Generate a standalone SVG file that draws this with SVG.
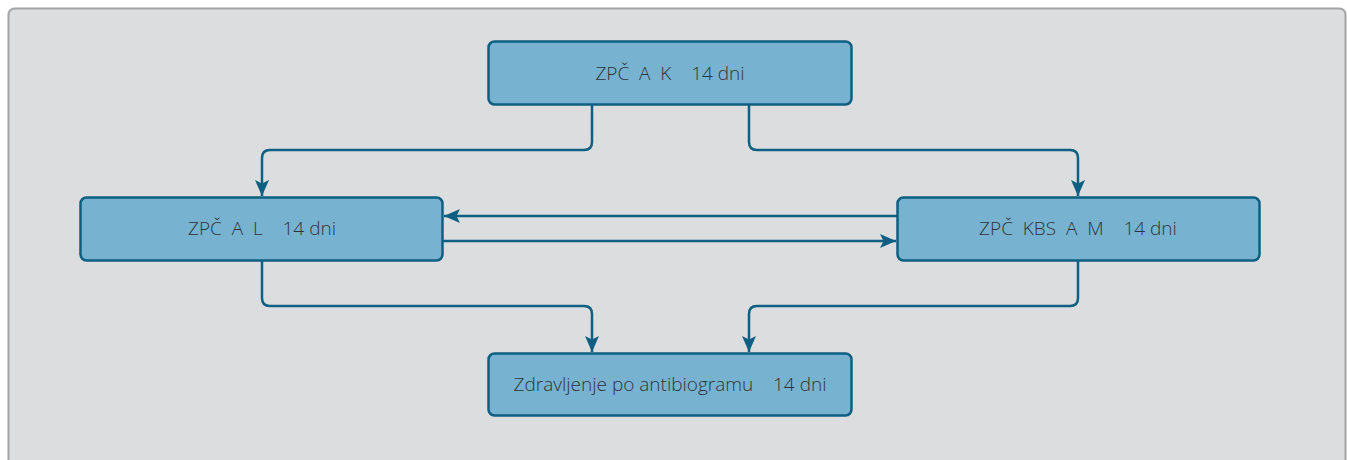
<svg xmlns="http://www.w3.org/2000/svg" width="1347" height="460" viewBox="0 0 1347 460">
<style>
.node{fill:#77b3d1;stroke:#0e5f82;stroke-width:2.5}
.lbl{font-family:"Open Sans",sans-serif;font-weight:300;font-size:19px;fill:#2f3337;text-anchor:middle;white-space:pre}
.con{fill:none;stroke:#0e5f82;stroke-width:2.5}
</style>
<defs>
<marker id="ah" viewBox="0 0 16 14" refX="16" refY="7" markerWidth="16" markerHeight="14" markerUnits="userSpaceOnUse" orient="auto">
<path d="M0,0 L16,7 L0,14 L3.5,7 Z" fill="#0e5f82"/>
</marker>
</defs>
<rect x="8.5" y="8.5" width="1337" height="470" rx="6" fill="#dcdddf" stroke="#a3a4a6" stroke-width="2"/>
<g id="connectors">
<path class="con" d="M592,104 V142 Q592,150 584,150 H270 Q262,150 262,158 V196" marker-end="url(#ah)"/>
<path class="con" d="M749,104 V142 Q749,150 757,150 H1070 Q1078,150 1078,158 V196" marker-end="url(#ah)"/>
<path class="con" d="M897,216 H444" marker-end="url(#ah)"/>
<path class="con" d="M443,241 H896" marker-end="url(#ah)"/>
<path class="con" d="M262,261 V298 Q262,306 270,306 H584 Q592,306 592,314 V352" marker-end="url(#ah)"/>
<path class="con" d="M1078,261 V298 Q1078,306 1070,306 H757 Q749,306 749,314 V352" marker-end="url(#ah)"/>
</g>
<g id="node-top">
<rect class="node" x="488.5" y="41.5" width="363" height="63" rx="6"/>
<text class="lbl" x="670" y="80" xml:space="preserve">ZPČ  A  K    14 dni</text>
</g>
<g id="node-left">
<rect class="node" x="80.5" y="197.5" width="362" height="63" rx="6"/>
<text class="lbl" x="262" y="235" xml:space="preserve">ZPČ  A  L    14 dni</text>
</g>
<g id="node-right">
<rect class="node" x="897.5" y="197.5" width="362" height="63" rx="6"/>
<text class="lbl" x="1078" y="235" xml:space="preserve">ZPČ  KBS  A  M    14 dni</text>
</g>
<g id="node-bottom">
<rect class="node" x="488.5" y="353.5" width="363" height="62" rx="6"/>
<text class="lbl" x="670" y="391" xml:space="preserve">Zdravljenje po antibiogramu    14 dni</text>
</g>
</svg>
